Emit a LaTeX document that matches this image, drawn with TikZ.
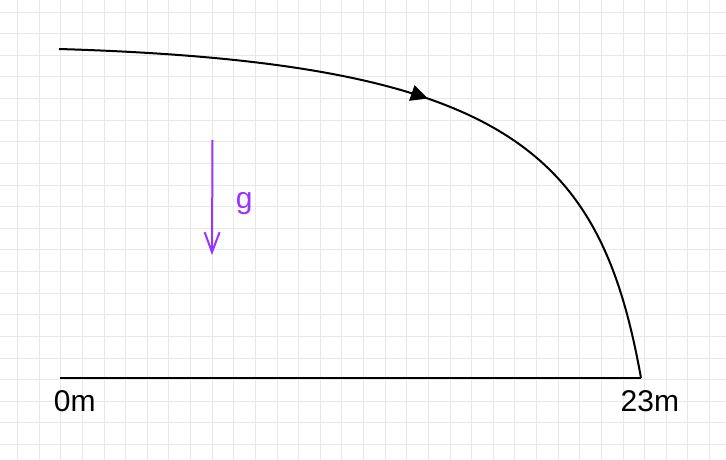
\documentclass[tikz,border=0pt]{standalone}
\usepackage{fontspec}
\setmainfont{Liberation Sans}
\usetikzlibrary{arrows.meta,decorations.markings}
\definecolor{gridgray}{RGB}{232,232,232}
\definecolor{gpurple}{RGB}{153,51,255}
\tikzset{
  gridline/.style={draw=gridgray, line width=0.9pt},
  traj/.style={draw=black, line width=2pt},
  groundline/.style={draw=black, line width=2pt},
  midarrow/.style={postaction={decorate}, decoration={markings,
      mark=at position 0.5 with {\arrow{Triangle[length=17pt,width=16pt]}}}},
  gravity/.style={draw=gpurple, line width=2pt, -{Straight Barb[length=20pt,width=15pt]}},
  lbl/.style={inner sep=0pt, anchor=base west, font=\fontsize{30}{36}\selectfont},
}
\begin{document}
\begin{tikzpicture}[x=1pt,y=-1pt]
  \useasboundingbox (0,0) rectangle (726,460);
  \fill[white] (0,0) rectangle (726,460);
  % grid
  \foreach \k in {0,...,32} {
    \draw[gridline] ({17.5+\k*21.625},0) -- ({17.5+\k*21.625},460);
  }
  \foreach \k in {0,...,20} {
    \draw[gridline] (0,{12+\k*21.625}) -- (726,{12+\k*21.625});
  }
  % coordinates
  \coordinate (start) at (59,49);
  \coordinate (finish) at (641,378);
  \coordinate (origin) at (60,378);
  \coordinate (gtop) at (212.5,140);
  \coordinate (gbot) at (212,255);
  % trajectory
  \draw[traj, midarrow] (start) .. controls (509,62.5) and (600.5,151.7) .. (finish);
  % ground
  \draw[groundline] (origin) -- (finish);
  % gravity
  \draw[gravity] (gtop) -- (gbot);
  % labels
  \node[lbl, text=gpurple] (glabel) at (235.7,208.6) {g};
  \node[lbl] (zero) at (53.7,411.7) {0m};
  \node[lbl] (dist) at (620.5,411.7) {23m};
\end{tikzpicture}
\end{document}
